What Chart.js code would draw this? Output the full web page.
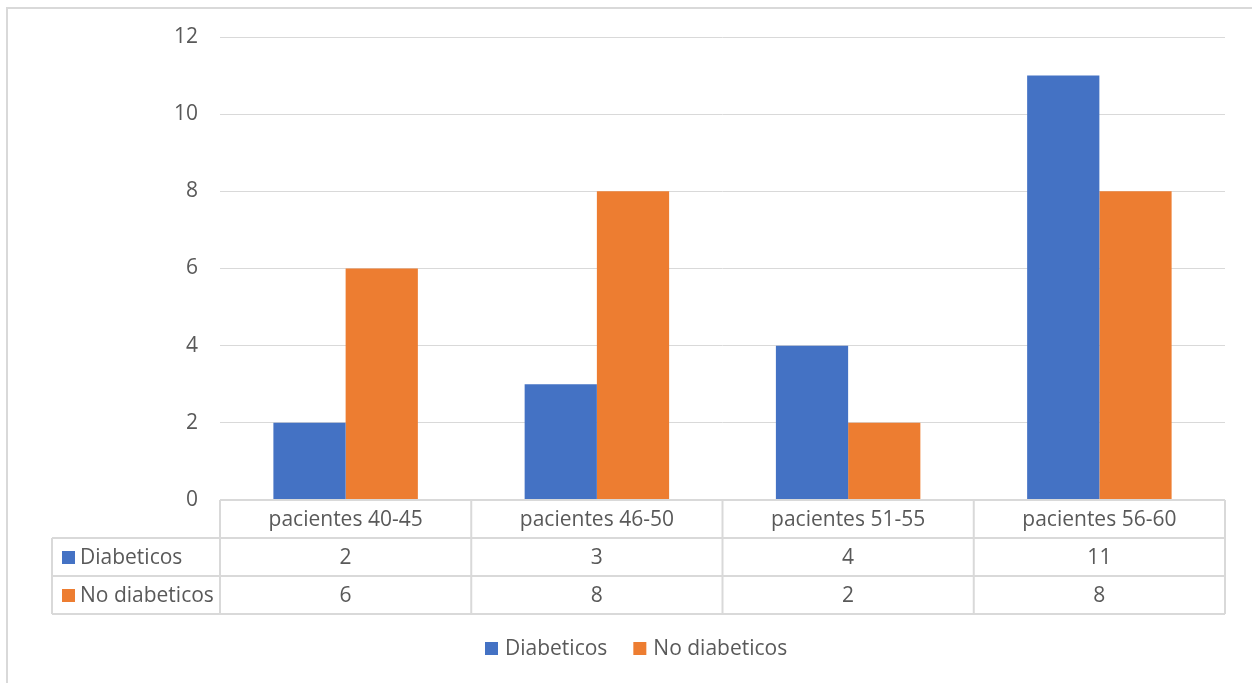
<!DOCTYPE html>
<html>
<head>
<meta charset="utf-8">
<script src="https://cdn.jsdelivr.net/npm/chart.js@4.4.0/dist/chart.umd.min.js"></script>
<style>
  html, body { margin: 0; padding: 0; background: #fff; }
  #marco { position: absolute; left: 6px; top: 7px; width: 1260px; height: 700px;
           border-left: 2px solid #d9d9d9; border-top: 2px solid #d9d9d9; }
  #wrap { position: absolute; left: 0; top: 0; width: 1252px; height: 683px; }
</style>
</head>
<body>
<div id="marco"></div>
<div id="wrap"><canvas id="grafico" width="1252" height="683"></canvas></div>
<script>
// datos del gráfico
const categorias = ['pacientes 40-45', 'pacientes 46-50', 'pacientes 51-55', 'pacientes 56-60'];
const diabeticos = [2, 3, 4, 11];
const noDiabeticos = [6, 8, 2, 8];
const nombresSeries = ['Diabeticos', 'No diabeticos'];
const coloresSeries = ['#4472c4', '#ed7d31'];

const FUENTE = '"Open Sans", "Noto Sans", sans-serif';
const TAM = 21;
const GRIS = '#595959';
const LINEA = '#d9d9d9';

// tabla de datos + leyenda (estilo Excel)
const tablaPlugin = {
    id: 'tablaDatos',
    afterDraw(chart) {
        const ctx = chart.ctx;
        const x = chart.scales.x;
        const area = chart.chartArea;
        const filaH = 38;
        const y0 = area.bottom;
        const izq = 52;
        const n = categorias.length;
        const ancho = (area.right - area.left) / n;

        ctx.save();
        ctx.strokeStyle = LINEA;
        ctx.lineWidth = 2;
        ctx.beginPath();
        // horizontales
        ctx.moveTo(area.left, y0); ctx.lineTo(area.right, y0);
        for (let r = 1; r <= 3; r++) {
            ctx.moveTo(izq, y0 + r * filaH); ctx.lineTo(area.right, y0 + r * filaH);
        }
        // verticales
        for (let i = 0; i <= n; i++) {
            const xx = area.left + i * ancho;
            ctx.moveTo(xx, y0); ctx.lineTo(xx, y0 + 3 * filaH);
        }
        ctx.moveTo(izq, y0 + filaH); ctx.lineTo(izq, y0 + 3 * filaH);
        ctx.stroke();

        ctx.font = TAM + 'px ' + FUENTE;
        ctx.fillStyle = GRIS;
        ctx.textBaseline = 'middle';
        ctx.textAlign = 'center';
        categorias.forEach((c, i) => {
            ctx.fillText(c, x.getPixelForValue(i), y0 + filaH / 2 + 1);
        });

        chart.data.datasets.forEach((ds, r) => {
            const yc = y0 + (r + 1.5) * filaH + 1;
            ctx.fillStyle = ds.backgroundColor;
            ctx.fillRect(62, yc - 7, 13, 13);
            ctx.fillStyle = GRIS;
            ctx.textAlign = 'left';
            ctx.fillText(ds.label, 80, yc);
            ctx.textAlign = 'center';
            ds.data.forEach((v, i) => {
                ctx.fillText(String(v), x.getPixelForValue(i), yc);
            });
        });

        // leyenda
        const yl = 649;
        const anchos = chart.data.datasets.map(ds => ctx.measureText(ds.label).width);
        const sep = 26;
        let xl = 485;
        chart.data.datasets.forEach((ds, r) => {
            ctx.fillStyle = ds.backgroundColor;
            ctx.fillRect(xl, yl - 7, 13, 13);
            ctx.fillStyle = GRIS;
            ctx.textAlign = 'left';
            ctx.fillText(ds.label, xl + 20, yl);
            xl += 20 + anchos[r] + sep;
        });
        ctx.restore();
    }
};

new Chart(document.getElementById('grafico'), {
    type: 'bar',
    data: {
        labels: categorias,
        datasets: [
            { label: nombresSeries[0], data: diabeticos, backgroundColor: coloresSeries[0] },
            { label: nombresSeries[1], data: noDiabeticos, backgroundColor: coloresSeries[1] }
        ]
    },
    options: {
        responsive: false,
        animation: false,
        layout: { padding: { top: 37, right: 27, left: 0, bottom: 0 } },
        datasets: { bar: { categoryPercentage: 0.575, barPercentage: 1 } },
        plugins: {
            legend: { display: false },
            tooltip: { enabled: false }
        },
        scales: {
            x: {
                ticks: { display: false },
                grid: { display: false },
                border: { display: false },
                afterFit: s => { s.height = 183; }
            },
            y: {
                min: 0, max: 12,
                ticks: { stepSize: 2, color: GRIS, padding: 22, font: { size: TAM, family: FUENTE } },
                grid: { color: LINEA, lineWidth: 1, drawTicks: false },
                border: { display: false },
                afterFit: s => { s.width = 220; }
            }
        }
    },
    plugins: [tablaPlugin]
});
</script>
</body>
</html>
